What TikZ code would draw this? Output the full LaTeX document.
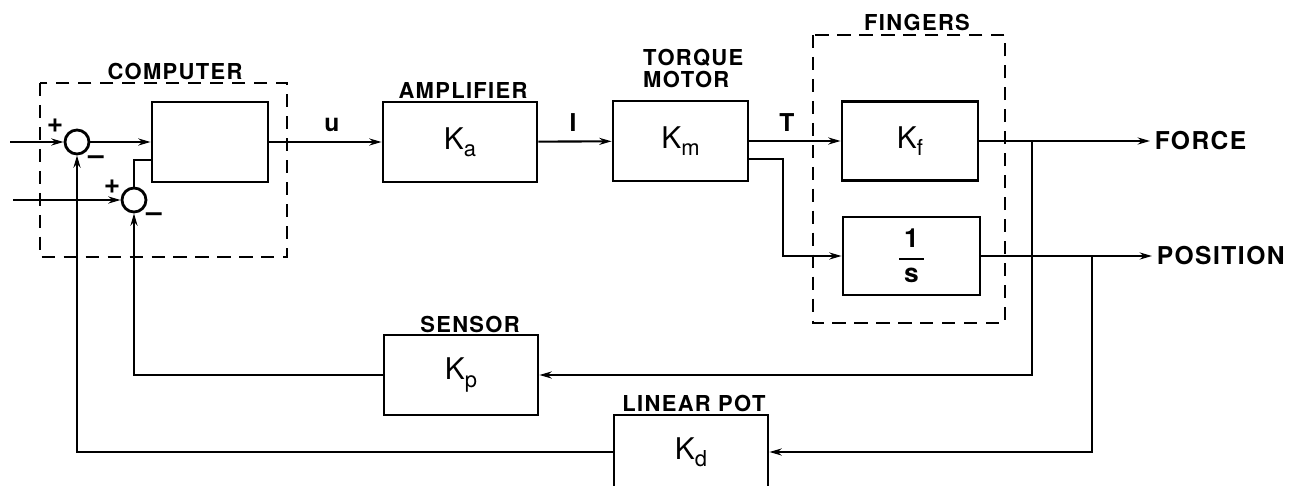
\documentclass[tikz,border=0pt]{standalone}
\usepackage{amsmath}
\usepackage{fontspec}
\setmainfont{TeX Gyre Heros}
\usetikzlibrary{arrows.meta}
\newcommand{\gain}[2]{#1\raisebox{-0.45ex}{\fontsize{12.5}{12.5}\selectfont #2}}
\begin{document}
\begin{tikzpicture}[x=0.02cm,y=-0.02cm,
  blk/.style n args={2}{draw,line width=1.6pt,minimum width=#1*0.02cm,minimum height=#2*0.02cm,inner sep=0pt,font=\fontsize{17}{17}\selectfont},
  sumj/.style={draw,circle,line width=1.6pt,minimum size=0.48cm,inner sep=0pt},
  grp/.style={line width=1.6pt,dash pattern=on 7.5pt off 5pt},
  lbl/.style={font=\bfseries\fontsize{12.5}{13}\selectfont\addfontfeatures{LetterSpace=6}},
  sig/.style={font=\bfseries\fontsize{14}{14}\selectfont},
  pm/.style={font=\bfseries\fontsize{16}{16}\selectfont},
  outlbl/.style={font=\bfseries\fontsize{14}{14}\selectfont\addfontfeatures{LetterSpace=6},inner sep=2.5pt},
  wire/.style={line width=1.2pt},
  arr/.style={wire,-{Stealth[length=7pt,width=4pt]}},
]
\useasboundingbox (0,0) rectangle (1309,486);
\clip (0,0) rectangle (1309,486);

% group boxes
\draw[grp] (40,83) rectangle (287,257);
\draw[grp] (813,35) rectangle (1005,323);

% summing junctions
\node[sumj] (s1) at (77,142) {};
\node[sumj] (s2) at (134,200) {};

% blocks
\node[blk={116}{80}] (comp) at (210,142) {};
\node[blk={154}{80}] (amp) at (460,142) {\gain{K}{a}};
\node[blk={135}{80}] (tm) at (680.5,141) {\gain{K}{m}};
\node[blk={136}{79}] (kf) at (910,141) {\gain{K}{f}};
\node[blk={137}{78}] (ints) at (911.5,256) {\bfseries\fontsize{15}{15}\selectfont$\genfrac{}{}{1.2pt}{0}{\makebox[0.5cm]{\textbf{1}}}{\textbf{s}}$};
\node[blk={154}{80}] (sen) at (461,375) {\gain{K}{p}};
\node[blk={154}{74}] (kd) at (691,452) {\gain{K}{d}};

% labels
\node[lbl] at (175,71) {COMPUTER};
\node[lbl] at (463,90) {AMPLIFIER};
\node[lbl,align=left,anchor=west] at (637,68.5) {TORQUE\\MOTOR};
\node[lbl] at (917,22) {FINGERS};
\node[lbl] at (470,324) {SENSOR};
\node[lbl] at (694,403) {LINEAR POT};

\node[sig] at (332,125) {u};
\node[sig] at (573,123) {I};
\node[sig] at (787,123) {T};
\node[pm] at (55,126) {+};
\node[pm] at (96,160) {\textendash};
\node[pm] at (112,187) {+};
\node[pm] at (154,217) {\textendash};

\node[outlbl,anchor=west] (force) at (1150,141) {FORCE};
\node[outlbl,anchor=west] (pos) at (1152,256) {POSITION};

% connectors
\coordinate (in1) at (10,142);
\coordinate (in2) at (13,200);
\coordinate (bend) at (783,256);
\coordinate (ftap) at (1032,141);
\coordinate (ptap) at (1092,256);

\draw[arr] (in1) -- (s1);
\draw[arr] (in2) -- (s2);
\draw[arr] (s1) -- (comp);
\draw[wire] (s2.north) |- ([yshift=-0.36cm]comp.west);
\draw[arr] (comp) -- (amp);
\draw[arr] (amp) -- (tm);
\draw[arr] (tm) -- (kf);
\draw[arr] ([yshift=-0.36cm]tm.east) -| (bend) -- (ints.west);
\draw[arr] (kf) -- (force.west);
\draw[arr] (ints) -- (pos.west);
\draw[arr] (ftap) |- (sen.east);
\draw[arr] (sen.west) -| (s2.south);
\draw[arr] (ptap) |- (kd.east);
\draw[arr] (kd.west) -| (s1.south);
\end{tikzpicture}
\end{document}
